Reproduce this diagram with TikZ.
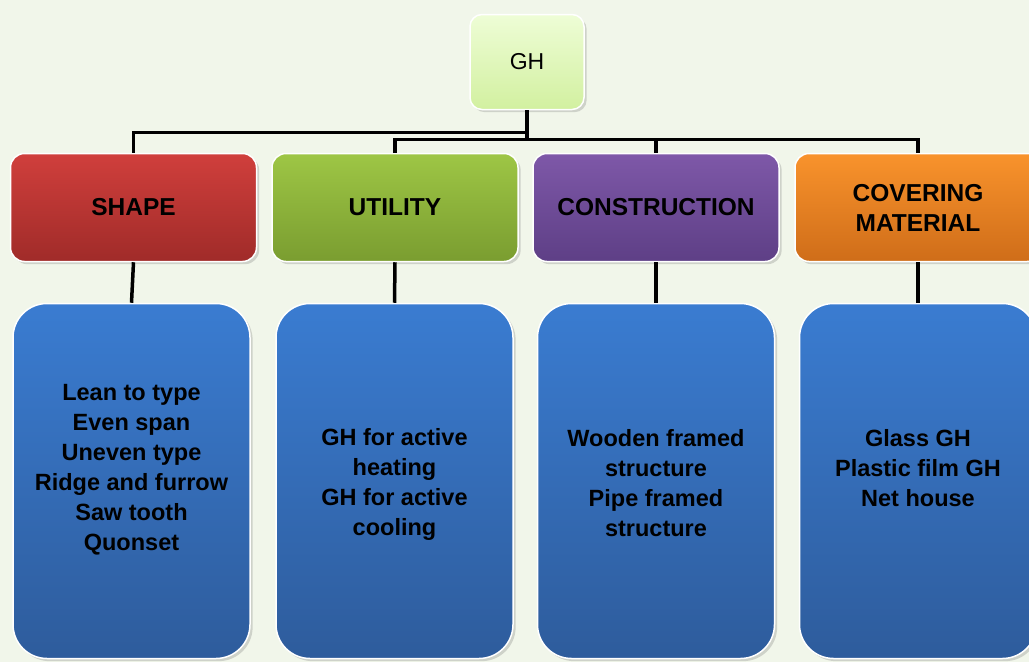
\documentclass[tikz,border=0pt]{standalone}
\usepackage{fontspec}
\setmainfont{Liberation Sans}
\usetikzlibrary{shadows}

\definecolor{bgcol}{HTML}{F1F6EA}
\definecolor{ghT}{HTML}{EEFDD6}
\definecolor{ghB}{HTML}{D2F0A0}
\definecolor{redT}{HTML}{D03F3C}
\definecolor{redB}{HTML}{A02B29}
\definecolor{grnT}{HTML}{9EC645}
\definecolor{grnB}{HTML}{7A9D30}
\definecolor{purT}{HTML}{7E58A8}
\definecolor{purB}{HTML}{5E3F86}
\definecolor{orgT}{HTML}{F9932C}
\definecolor{orgB}{HTML}{CF6D19}
\definecolor{bluT}{HTML}{3A7CD1}
\definecolor{bluB}{HTML}{2E5C9C}

\begin{document}
\begin{tikzpicture}[
    x=1pt, y=-1pt,
    conn/.style={line width=3.5pt, black},
    root/.style={draw=white, line width=1.5pt, rounded corners=12pt,
                 minimum width=114pt, minimum height=95pt,
                 top color=ghT, bottom color=ghB,
                 drop shadow={opacity=0.3},
                 font=\fontsize{23}{28}\selectfont},
    head/.style={draw=white, line width=1.5pt, rounded corners=14pt,
                 minimum width=246pt, minimum height=108pt, align=center,
                 drop shadow={opacity=0.3},
                 font=\fontsize{24.5}{30}\selectfont\bfseries},
    list/.style={draw=white, line width=1.5pt, rounded corners=34pt,
                 minimum width=237pt, minimum height=355pt,
                 top color=bluT, bottom color=bluB,
                 drop shadow={opacity=0.3}},
    listtxt/.style={align=center, inner sep=0pt,
                    font=\fontsize{23.5}{30}\selectfont\bfseries}
  ]
  \useasboundingbox (0,0) rectangle (1029,662);
  \fill[bgcol] (0,0) rectangle (1029,662);
  \clip (0,0) rectangle (1029,662);

  % Root
  \node[root] (gh) at (527,62) {GH};

  % Categories
  \node[head, top color=redT, bottom color=redB] (shape) at (133.5,207.5) {SHAPE};
  \node[head, top color=grnT, bottom color=grnB] (utility) at (395,207.5) {UTILITY};
  \node[head, top color=purT, bottom color=purB] (constr) at (656,207.5) {CONSTRUCTION};
  \node[head, top color=orgT, bottom color=orgB] (cover) at (918,207.5) {COVERING\\MATERIAL};

  % Lists
  \node[list] (shapeList) at (131.5,481) {};
  \node[list] (utilityList) at (394.5,481) {};
  \node[list] (constrList) at (656,481) {};
  \node[list] (coverList) at (918,481) {};
  \node[listtxt] (shapeTxt) at ([yshift=11pt]shapeList.center)
    {Lean to type\\Even span\\Uneven type\\Ridge and furrow\\Saw tooth\\Quonset};
  \node[listtxt] (utilityTxt) at ([yshift=-3pt]utilityList.center)
    {GH for active\\heating\\GH for active\\cooling};
  \node[listtxt] (constrTxt) at ([yshift=-2pt]constrList.center)
    {Wooden framed\\structure\\Pipe framed\\structure};
  \node[listtxt] (coverTxt) at ([yshift=13pt]coverList.center)
    {Glass GH\\Plastic film GH\\Net house};

  % Connectors
  \draw[conn] (gh.south) -- ++(0,22) -| (shape.north);
  \draw[conn] (gh.south) -- ++(0,29) -| (utility.north);
  \draw[conn] (gh.south) ++(0,29) -| (constr.north);
  \draw[conn] (gh.south) ++(0,29) -| (cover.north);
  \draw[conn] (shape.south) -- (shapeList.north);
  \draw[conn] (utility.south) -- (utilityList.north);
  \draw[conn] (constr.south) -- (constrList.north);
  \draw[conn] (cover.south) -- (coverList.north);
\end{tikzpicture}
\end{document}
